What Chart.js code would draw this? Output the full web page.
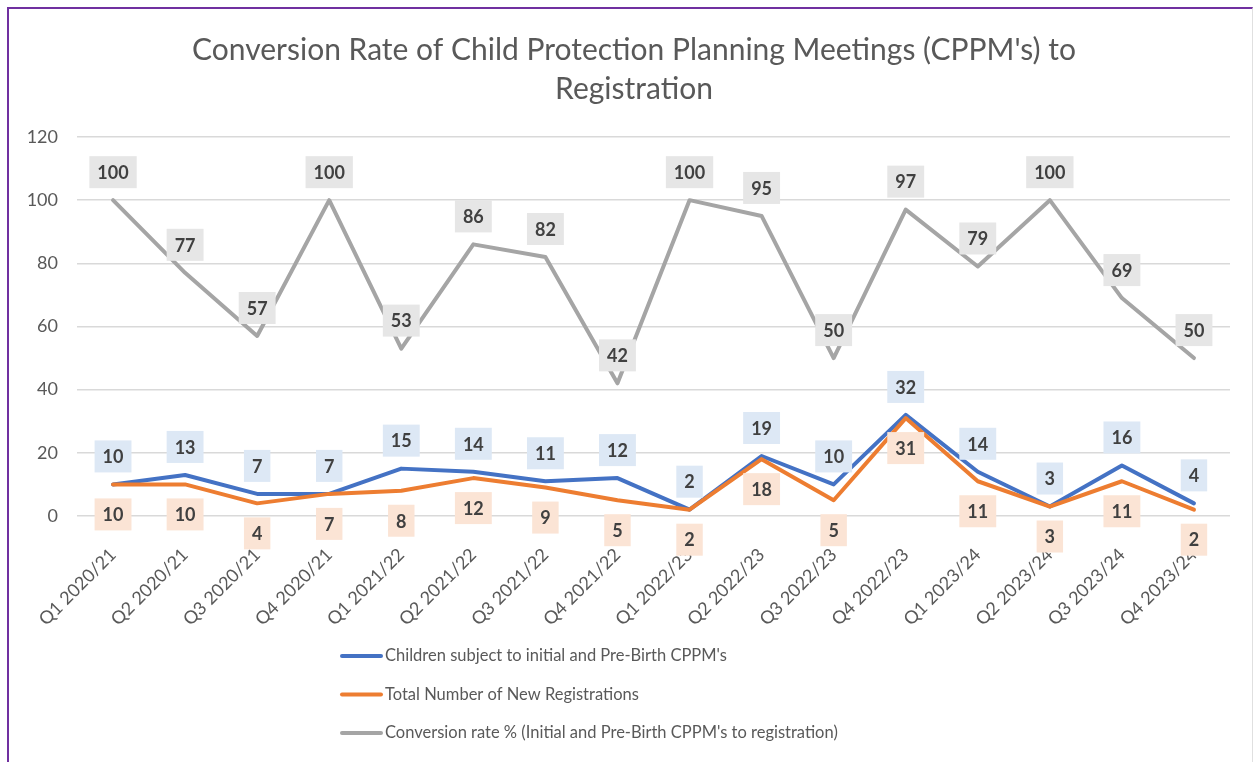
<!DOCTYPE html>
<html>
<head>
<meta charset="utf-8">
<script src="https://cdn.jsdelivr.net/npm/chart.js@4.4.0/dist/chart.umd.min.js"></script>
<style>
  html, body { margin: 0; padding: 0; background: #fff; }
  #wrap { position: relative; width: 1255px; height: 762px; overflow: hidden; }
  #frame { position: absolute; left: 7px; top: 7px; width: 1243px; height: 760px;
           border-left: 2px solid #7030a0; border-top: 2px solid #7030a0; border-right: 1px solid #e0e0e0; }
  canvas { position: absolute; left: 0; top: 0; }
</style>
</head>
<body>
<div id="wrap">
  <canvas id="chart1" width="1255" height="762"></canvas>
  <div id="frame"></div>
</div>
<script>
// quarters on the x axis
const quarters = ['Q1 2020/21', 'Q2 2020/21', 'Q3 2020/21', 'Q4 2020/21',
  'Q1 2021/22', 'Q2 2021/22', 'Q3 2021/22', 'Q4 2021/22',
  'Q1 2022/23', 'Q2 2022/23', 'Q3 2022/23', 'Q4 2022/23',
  'Q1 2023/24', 'Q2 2023/24', 'Q3 2023/24', 'Q4 2023/24'];

const cppmChildren = [10, 13, 7, 7, 15, 14, 11, 12, 2, 19, 10, 32, 14, 3, 16, 4];
const newRegistrations = [10, 10, 4, 7, 8, 12, 9, 5, 2, 18, 5, 31, 11, 3, 11, 2];
const conversionRate = [100, 77, 57, 100, 53, 86, 82, 42, 100, 95, 50, 97, 79, 100, 69, 50];

const seriesNames = ["Children subject to initial and Pre-Birth CPPM's",
  'Total Number of New Registrations',
  "Conversion rate % (Initial and Pre-Birth CPPM's to registration)"];

const titleLines = ["Conversion Rate of Child Protection Planning Meetings (CPPM's) to", 'Registration'];

const yTicks = [0, 20, 40, 60, 80, 100, 120];

const FONT = 'Lato, "Liberation Sans", sans-serif';
const GREY_TEXT = '#595959';

// label boxes: background and offset from the point
const labelBg = ['#dde8f5', '#fbe4d5', '#e6e6e6'];
const labelDy = [-28, 30, -28];

const dataLabels = {
  id: 'dataLabels',
  afterDatasetsDraw(chart) {
    const ctx = chart.ctx;
    ctx.save();
    ctx.font = 'bold 18px ' + FONT;
    ctx.textAlign = 'center';
    ctx.textBaseline = 'middle';
    chart.data.datasets.forEach((ds, i) => {
      const meta = chart.getDatasetMeta(i);
      meta.data.forEach((pt, j) => {
        const txt = String(ds.data[j]);
        const w = ctx.measureText(txt).width + 16;
        const h = 32;
        const cx = pt.x, cy = pt.y + labelDy[i];
        ctx.fillStyle = labelBg[i];
        ctx.fillRect(cx - w / 2, cy - h / 2, w, h);
        ctx.fillStyle = '#404040';
        ctx.fillText(txt, cx, cy + 1);
      });
    });
    ctx.restore();
  }
};

// title is centred on the frame, not on the plot
const frameTitle = {
  id: 'frameTitle',
  afterDraw(chart) {
    const ctx = chart.ctx;
    ctx.save();
    ctx.font = '30px ' + FONT;
    ctx.fillStyle = GREY_TEXT;
    ctx.textAlign = 'center';
    ctx.textBaseline = 'middle';
    titleLines.forEach((t, i) => ctx.fillText(t, 634, 50 + i * 39.5));
    ctx.restore();
  }
};

// vertical legend under the axis
const stackedLegend = {
  id: 'stackedLegend',
  afterDraw(chart) {
    const ctx = chart.ctx;
    ctx.save();
    ctx.font = '16.5px ' + FONT;
    ctx.textBaseline = 'middle';
    ctx.lineCap = 'round';
    ctx.lineWidth = 4;
    chart.data.datasets.forEach((ds, i) => {
      const y = 656 + i * 38.5;
      ctx.strokeStyle = ds.borderColor;
      ctx.beginPath();
      ctx.moveTo(342, y);
      ctx.lineTo(381, y);
      ctx.stroke();
      ctx.fillStyle = GREY_TEXT;
      ctx.fillText(ds.label, 385, y);
    });
    ctx.restore();
  }
};

new Chart('chart1', {
  type: 'line',
  data: {
    labels: quarters,
    datasets: [{
      label: seriesNames[0],
      data: cppmChildren,
      borderColor: '#4472c4',
      order: 2
    }, {
      label: seriesNames[1],
      data: newRegistrations,
      borderColor: '#ed7d31',
      order: 1
    }, {
      label: seriesNames[2],
      data: conversionRate,
      borderColor: '#a5a5a5',
      order: 0
    }]
  },
  options: {
    responsive: false,
    animation: false,
    layout: { padding: { left: 0, right: 25, top: 137, bottom: 136 } },
    elements: {
      line: { borderWidth: 4, tension: 0, borderJoinStyle: 'round', borderCapStyle: 'round' },
      point: { radius: 0, hoverRadius: 0 }
    },
    plugins: {
      legend: { display: false },
      tooltip: { enabled: false },
      title: { display: false }
    },
    scales: {
      x: {
        offset: true,
        grid: { display: false },
        border: { display: false },
        afterFit(scale) { scale.height = 110; },
        ticks: {
          color: GREY_TEXT,
          font: { family: FONT, size: 18 },
          maxRotation: 45,
          minRotation: 45,
          padding: 20,
          autoSkip: false
        }
      },
      y: {
        min: 0,
        max: 120,
        afterFit(scale) { scale.width = 77; },
        afterBuildTicks(scale) { scale.ticks = yTicks.map(v => ({ value: v })); },
        grid: { color: '#d9d9d9', lineWidth: 1.5, drawTicks: false },
        border: { display: false },
        ticks: {
          color: GREY_TEXT,
          font: { family: FONT, size: 18 },
          padding: 19
        }
      }
    }
  },
  plugins: [dataLabels, frameTitle, stackedLegend]
});
</script>
</body>
</html>
